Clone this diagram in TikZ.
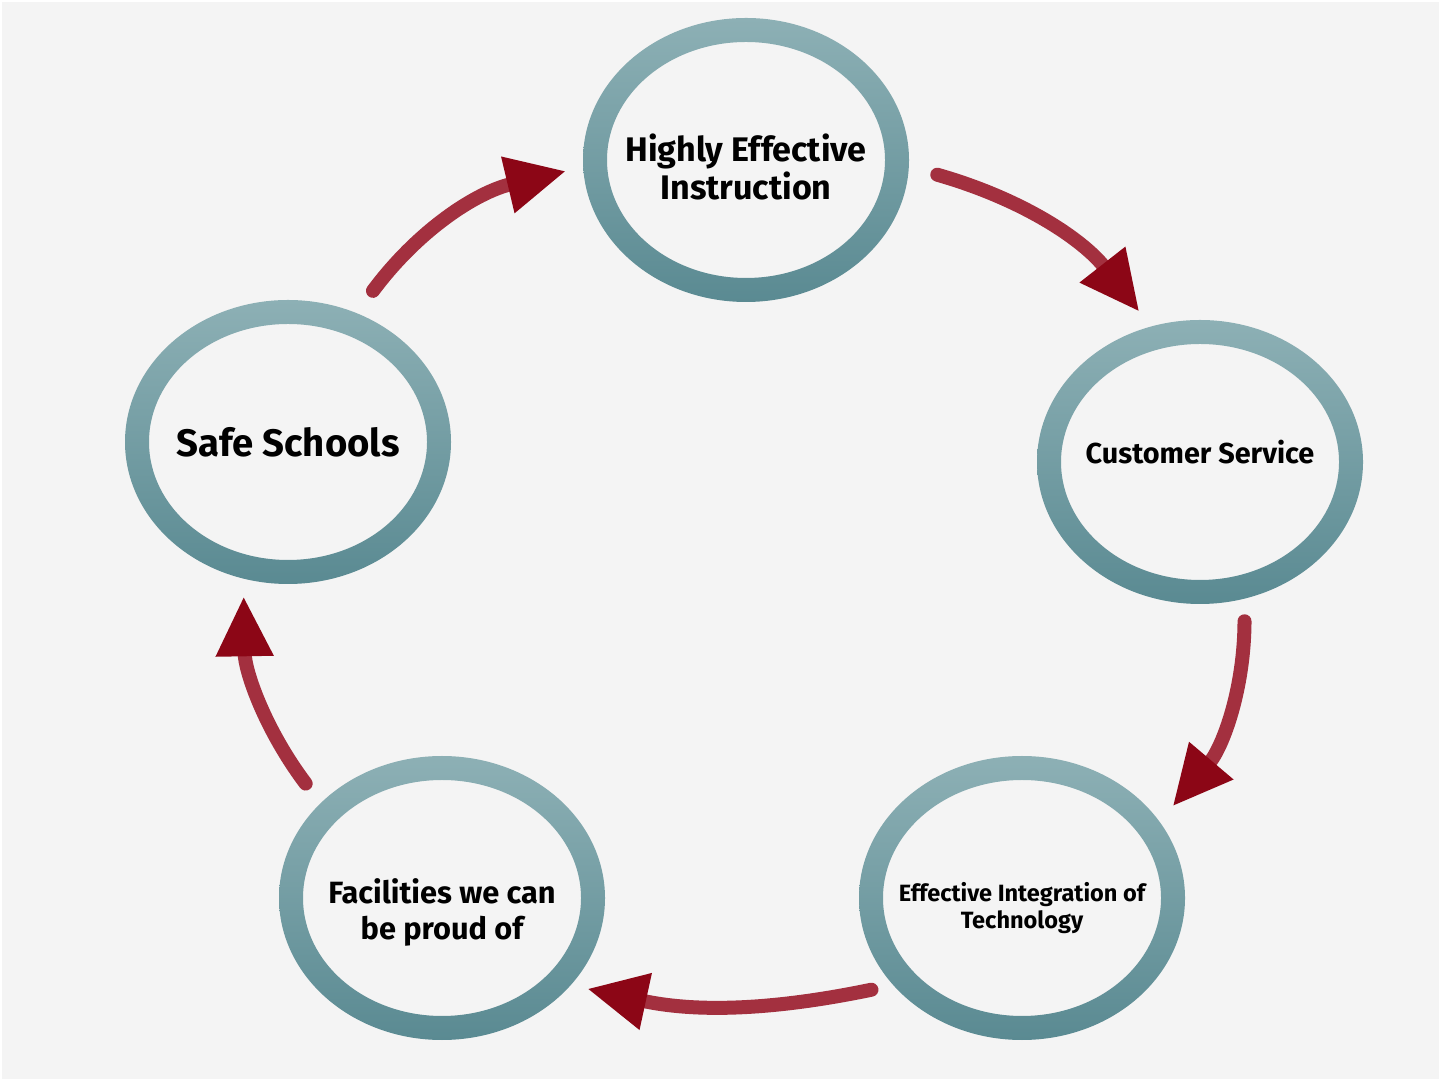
\documentclass[tikz,border=0pt]{standalone}
\usepackage{fontspec}
\setmainfont{Fira Sans}
\usetikzlibrary{shapes.geometric,arrows.meta}

\definecolor{pagebg}{HTML}{F4F4F4}
\definecolor{ringtop}{HTML}{8DB0B5}
\definecolor{ringbot}{HTML}{5A8A92}
\definecolor{flowline}{HTML}{A3303F}
\definecolor{flowhead}{HTML}{8C0616}

\tikzset{
  goal/.style={ellipse, minimum width=3.26cm, minimum height=2.84cm,
    inner sep=0pt, align=center},
  flow/.style={line width=0.14cm, line cap=round, color=flowline,
    -{Triangle[length=0.60cm, width=0.54cm, color=flowhead]}},
}

\begin{document}
\begin{tikzpicture}
% BACKGROUND ==================================================================
  \fill[white] (0,0) rectangle (14.41,-10.81);
  \fill[pagebg] (0.02,-0.02) rectangle (14.39,-10.79);

% GOALS =======================================================================
  \node[goal, font=\fontsize{9.7}{10.8}\selectfont\bfseries, text height=22.7pt] (instr) at (7.46,-1.60)
    {Highly Effective\\ Instruction};
  \node[goal, font=\fontsize{8.2}{9}\selectfont\bfseries, text depth=5.7pt] (service) at (12.00,-4.62)
    {Customer Service};
  \node[goal, font=\fontsize{6.7}{7.7}\selectfont\bfseries, text height=19.1pt] (techn) at (10.22,-8.98)
    {Effective Integration of\\ Technology};
  \node[goal, font=\fontsize{8.75}{10.2}\selectfont\bfseries, text height=25.7pt] (facil) at (4.42,-8.98)
    {Facilities we can\\ be proud of};
  \node[goal, font=\fontsize{10.9}{12}\selectfont\bfseries] (safety) at (2.88,-4.42)
    {Safe Schools};

% RINGS =======================================================================
  \foreach \n in {instr,service,techn,facil,safety} {
    \shade[top color=ringtop, bottom color=ringbot, even odd rule]
      (\n.center) ellipse [x radius=1.63cm, y radius=1.42cm]
      (\n.center) ellipse [x radius=1.39cm, y radius=1.18cm];
  }

% ARROWS ======================================================================
  \draw[flow, shorten <=0.27cm, shorten >=0.09cm] (safety.62) to[bend left=20] (instr.183);
  \draw[flow, shorten <=0.21cm, shorten >=0.18cm] (instr.-3) to[bend left=18] (service.110);
  \draw[flow, shorten <=0.22cm, shorten >=0.12cm] (service.-72) to[bend left=20] (techn.30);
  \draw[flow, shorten <=0.14cm, shorten >=0.16cm] (techn.213) to[bend left=12] (facil.-34);
  \draw[flow, shorten <=0.24cm, shorten >=0.17cm] (facil.142) to[bend left=18] (safety.252);

\end{tikzpicture}
\end{document}
